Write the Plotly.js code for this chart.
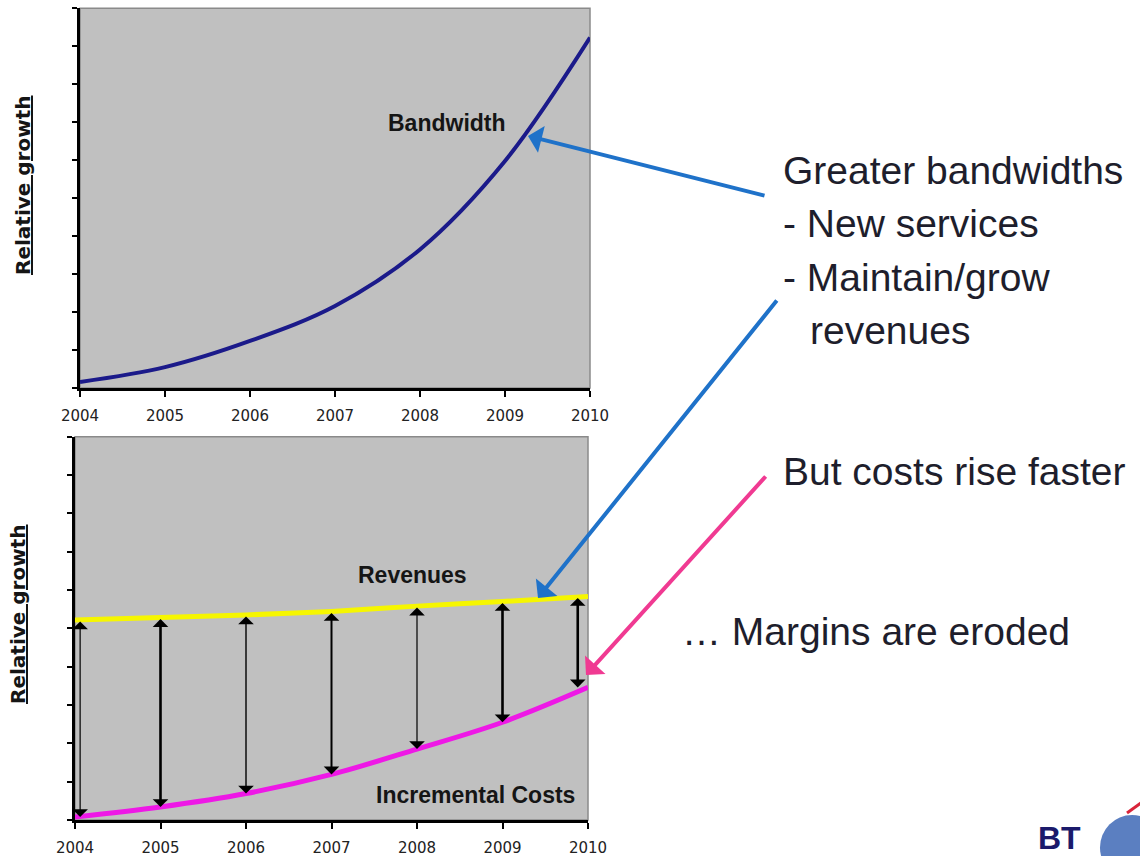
<!DOCTYPE html>
<html>
<head>
<meta charset="utf-8">
<script src="https://cdn.plot.ly/plotly-3.0.1.min.js"></script>
<style>
  html, body { margin: 0; padding: 0; background: #ffffff; }
  #chart { width: 1140px; height: 856px; }
</style>
</head>
<body>
<div id="chart"></div>
<script>
// Years on both horizontal axes
const YEARS = [2004, 2005, 2006, 2007, 2008, 2009, 2010];
const YEAR_LABELS = ['2004', '2005', '2006', '2007', '2008', '2009', '2010'];

// Relative growth (arbitrary units, 0-10 scale)
const BANDWIDTH = [0.16, 0.55, 1.24, 2.16, 3.65, 5.98, 9.23];
const REVENUES = [5.22, 5.28, 5.35, 5.44, 5.58, 5.70, 5.83];
const INCREMENTAL_COSTS = [0.08, 0.34, 0.69, 1.19, 1.85, 2.55, 3.46];

// Callout text on the right-hand side
const CALLOUT_LINES = ['Greater bandwidths', '- New services', '- Maintain/grow', 'revenues'];
const COSTS_NOTE = 'But costs rise faster';
const MARGIN_NOTE = '\u2026 Margins are eroded';
const AXIS_CAPTION = 'Relative growth';

// ---- styling / layout helpers ----
const W = 1140, H = 856;
const px = x => x / W;           // pixel column -> paper x
const py = y => 1 - y / H;       // pixel row    -> paper y

const TEXT_FONT = 'Liberation Sans, Arial, sans-serif';
const WIDE_FONT = 'DejaVu Sans, Verdana, sans-serif';
const ARROW_WIDTHS = [1.2, 2.6, 1.4, 2.0, 1.2, 2.6, 2.6];

function axisX(domain, anchor) {
  return {
    domain: domain, anchor: anchor, range: [2004, 2010],
    tickmode: 'array', tickvals: YEARS, ticktext: YEAR_LABELS,
    ticks: 'outside', ticklen: 6, tickwidth: 2, tickcolor: '#000',
    ticklabelstandoff: 6,
    tickfont: { family: WIDE_FONT, size: 15, color: '#222' },
    showline: true, linecolor: '#000', linewidth: 2.5,
    showgrid: false, zeroline: false, fixedrange: true
  };
}
function axisY(domain, anchor) {
  return {
    domain: domain, anchor: anchor, range: [0, 10],
    tick0: 0, dtick: 1, showticklabels: false,
    ticks: 'outside', ticklen: 5, tickwidth: 2, tickcolor: '#000',
    showline: true, linecolor: '#000', linewidth: 3,
    showgrid: false, zeroline: false, fixedrange: true
  };
}

const traces = [
  {
    x: YEARS, y: BANDWIDTH, xaxis: 'x', yaxis: 'y', type: 'scatter', mode: 'lines',
    line: { color: '#1b1a8a', width: 4, shape: 'spline', smoothing: 1 },
    hoverinfo: 'skip'
  },
  {
    x: YEARS, y: REVENUES, xaxis: 'x2', yaxis: 'y2', type: 'scatter', mode: 'lines',
    line: { color: '#f6f600', width: 5, shape: 'spline', smoothing: 0.6 },
    hoverinfo: 'skip'
  },
  {
    x: YEARS, y: INCREMENTAL_COSTS, xaxis: 'x2', yaxis: 'y2', type: 'scatter', mode: 'lines',
    line: { color: '#ee18e6', width: 5, shape: 'spline', smoothing: 1 },
    hoverinfo: 'skip'
  }
];

const annotations = [];

// Double-headed margin arrows between revenues and costs for each year
YEARS.forEach((yr, i) => {
  const xPos = Math.min(Math.max(yr, 2004.06), 2009.88);
  const w = ARROW_WIDTHS[i];
  const s = 2.6 / w;
  annotations.push({
    xref: 'x2', yref: 'y2', axref: 'x2', ayref: 'y2',
    x: xPos, y: INCREMENTAL_COSTS[i], ax: xPos, ay: REVENUES[i],
    text: '', showarrow: true, arrowside: 'end+start',
    arrowhead: 1, startarrowhead: 1, arrowsize: s, startarrowsize: s,
    arrowwidth: w, arrowcolor: '#000', standoff: 0, startstandoff: 0
  });
});

// Series labels inside the plots
const labelFont = { family: TEXT_FONT, size: 23, color: '#151515' };
annotations.push(
  { xref: 'x', yref: 'y', x: 2008.32, y: 6.99, text: '<b>Bandwidth</b>', showarrow: false, font: labelFont },
  { xref: 'x2', yref: 'y2', x: 2007.95, y: 6.39, text: '<b>Revenues</b>', showarrow: false, font: labelFont },
  { xref: 'x2', yref: 'y2', x: 2008.69, y: 0.65, text: '<b>Incremental Costs</b>', showarrow: false, font: labelFont }
);

// Rotated, underlined axis captions
const axisCaptionFont = { family: WIDE_FONT, size: 20, color: '#151515' };
annotations.push(
  { xref: 'paper', yref: 'paper', x: px(23), y: py(185), xanchor: 'center', yanchor: 'middle',
    text: '<b><u>' + AXIS_CAPTION + '</u></b>', textangle: -90, showarrow: false, font: axisCaptionFont },
  { xref: 'paper', yref: 'paper', x: px(18), y: py(614), xanchor: 'center', yanchor: 'middle',
    text: '<b><u>' + AXIS_CAPTION + '</u></b>', textangle: -90, showarrow: false, font: axisCaptionFont }
);

// Right-hand commentary
const noteFont = { family: TEXT_FONT, size: 39, color: '#1e1e2c' };
const lineTops = [170.5, 223.8, 277.1, 330.4];
const lineLefts = [781, 781, 781, 808];
CALLOUT_LINES.forEach((t, i) => {
  annotations.push({ xref: 'paper', yref: 'paper', x: px(lineLefts[i]), y: py(lineTops[i]),
    xanchor: 'left', yanchor: 'middle', text: t, showarrow: false, font: noteFont });
});
annotations.push(
  { xref: 'paper', yref: 'paper', x: px(781), y: py(471), xanchor: 'left', yanchor: 'middle',
    text: COSTS_NOTE, showarrow: false, font: noteFont },
  { xref: 'paper', yref: 'paper', x: px(680), y: py(631), xanchor: 'left', yanchor: 'middle',
    text: MARGIN_NOTE, showarrow: false, font: noteFont }
);

// Pointer arrows from the commentary to the curves
const pointer = (hx, hy, tx, ty, color) => ({
  xref: 'paper', yref: 'paper', x: px(hx), y: py(hy), ax: tx - hx, ay: ty - hy,
  text: '', showarrow: true, arrowhead: 1, arrowsize: 1.15, arrowwidth: 4,
  arrowcolor: color, standoff: 0
});
annotations.push(
  pointer(528, 136, 766, 196, '#1f72c9'),
  pointer(538, 598, 778, 299, '#1f72c9'),
  pointer(586, 675, 767, 475, '#f03a92')
);

// Corporate mark, bottom right (kept fully inside the page)
annotations.push({
  xref: 'paper', yref: 'paper', x: px(1036), y: py(838), xanchor: 'left', yanchor: 'middle',
  text: '<b>BT</b>', showarrow: false,
  font: { family: TEXT_FONT, size: 32, color: '#1b1a6b' }
});

const shapes = [
  // thin grey frame on the open sides of each plot
  { type: 'rect', xref: 'x domain', yref: 'y domain', x0: 0, x1: 1, y0: 0, y1: 1,
    line: { color: '#8a8a8a', width: 1.5 }, layer: 'below' },
  { type: 'rect', xref: 'x2 domain', yref: 'y2 domain', x0: 0, x1: 1, y0: 0, y1: 1,
    line: { color: '#8a8a8a', width: 1.5 }, layer: 'below' },
  // globe and swoosh of the logo
  { type: 'circle', xref: 'paper', yref: 'paper', x0: px(1100), x1: px(1164), y0: py(880), y1: py(815),
    fillcolor: '#5b7fc1', line: { width: 0 } },
  { type: 'line', xref: 'paper', yref: 'paper', x0: px(1127), y0: py(813), x1: px(1141), y1: py(803),
    line: { color: '#d9243a', width: 3 } }
];

const layout = {
  width: W, height: H,
  margin: { l: 0, r: 0, t: 0, b: 0 },
  paper_bgcolor: '#ffffff', plot_bgcolor: '#c0c0c0',
  showlegend: false,
  font: { family: TEXT_FONT, color: '#222' },
  xaxis: axisX([px(80), px(590)], 'y'),
  yaxis: axisY([py(388), py(8.3)], 'x'),
  xaxis2: axisX([px(75), px(588)], 'y2'),
  yaxis2: axisY([py(820), py(436.7)], 'x2'),
  annotations: annotations,
  shapes: shapes
};

Plotly.newPlot('chart', traces, layout, { displayModeBar: false, staticPlot: true });
</script>
</body>
</html>
